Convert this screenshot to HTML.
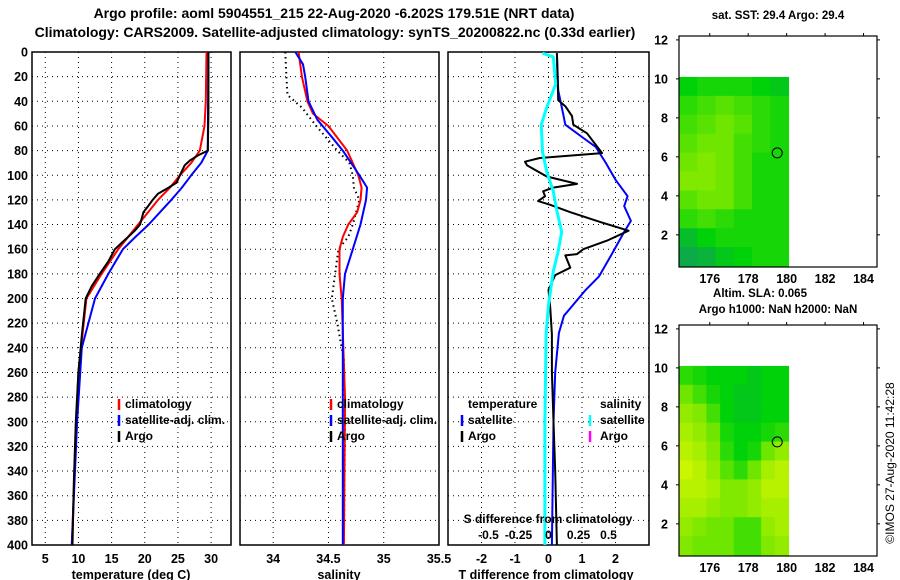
<!DOCTYPE html>
<html><head><meta charset="utf-8">
<style>
html,body{margin:0;padding:0;background:#fff;}
svg{display:block;font-family:"Liberation Sans",sans-serif;font-weight:bold;}
</style></head>
<body>
<svg id="fig" width="900" height="580" viewBox="0 0 900 580" xmlns="http://www.w3.org/2000/svg">
<text x="334" y="18" font-size="14" text-anchor="middle">Argo profile: aoml 5904551_215 22-Aug-2020 -6.202S 179.51E (NRT data)</text>
<text x="335" y="37" font-size="14" text-anchor="middle">Climatology: CARS2009. Satellite-adjusted climatology: synTS_20200822.nc (0.33d earlier)</text>
<g id="g"></g>
</svg>
<script>
// ---- data ----
const depthTicks = [0,20,40,60,80,100,120,140,160,180,200,220,240,260,280,300,320,340,360,380,400];
const tempTicks = [5,10,15,20,25,30];
const salTicks = [34,34.5,35,35.5];
const tdiffTicks = [-2,-1,0,1,2];
const sdiffTicks = [-0.5,-0.25,0,0.25,0.5];
const sdiffTickLabels = ["-0.5","-0.25","0","0.25","0.5"];

const tClimDepth = [0,40,60,80,90,100,110,120,130,140,150,160,180,200,260,300,400];
const tClimVal   = [29.3,29.2,29.0,28.3,27.0,25.3,23.8,22.0,20.5,19.0,17.5,16.0,13.5,11.2,10.0,9.7,9.0];
const tSatDepth  = [0,80,90,100,110,120,130,140,150,160,180,200,240,300,400];
const tSatVal    = [29.6,29.5,28.5,27.0,25.6,24.0,22.3,20.6,18.6,16.7,14.5,12.5,10.5,9.8,9.0];
const tArgoDepth = [0,50,80,84,88,92,100,106,110,115,120,125,130,140,145,150,155,160,170,180,190,200,230,260,300,350,400];
const tArgoVal   = [29.6,29.6,29.5,28.0,26.8,26.0,25.3,24.8,23.6,22.0,21.2,20.5,19.8,19.3,18.5,17.5,16.5,15.5,14.5,13.2,12.0,11.1,10.5,10.0,9.6,9.3,9.1];

const sClimDepth = [0,20,40,50,60,80,100,110,120,130,140,150,160,180,200,280,400];
const sClimVal   = [34.23,34.26,34.31,34.36,34.5,34.67,34.77,34.8,34.79,34.76,34.68,34.63,34.6,34.6,34.62,34.65,34.64];
const sSatDepth  = [0,10,20,40,55,70,80,100,110,120,140,160,180,200,400];
const sSatVal    = [34.2,34.27,34.29,34.32,34.4,34.54,34.63,34.78,34.85,34.84,34.79,34.72,34.65,34.63,34.63];
const sArgoDepth = [0,20,35,45,60,80,90,100,110,120,140,150,160,180,200,220,250,300,400];
const sArgoVal   = [34.11,34.12,34.13,34.26,34.39,34.58,34.69,34.72,34.73,34.78,34.72,34.68,34.59,34.56,34.53,34.58,34.64,34.65,34.64];

const dArgoDepth = [1,39,44,52,59,66,82,86,89,92,97,101,107,110,113,117,121,124,130,138,145,153,160,164,165,175,181,193,207,229,260,300,340,400];
const dArgoVal   = [0.25,0.29,0.5,0.7,0.74,1.15,1.6,-0.26,-0.7,-0.64,-0.31,-0.05,0.85,0.14,-0.16,-0.1,-0.31,0.05,0.65,1.55,2.39,1.75,1.04,0.85,0.5,0.65,0.2,0.0,0.05,0.1,0.1,0.15,0.2,0.25];
const dSatDepth  = [1,31,52,59,69,77,90,104,117,125,137,146,163,182,193,206,214,228,260,300,400];
const dSatVal    = [0.25,0.29,0.45,0.5,1.0,1.41,1.71,2.01,2.36,2.26,2.46,2.26,1.91,1.51,1.11,0.71,0.46,0.31,0.2,0.15,0.1];
const dSalDepth  = [1,4,26,45,59,81,97,113,129,146,162,178,205,229,300,400];
const dSalVal    = [-0.05,0.04,0.06,-0.015,-0.06,-0.05,-0.015,0.04,0.07,0.11,0.08,0.04,0,-0.02,-0.03,-0.03];

const lonTicks = [176,178,180,182,184];
const latTicks = [2,4,6,8,10,12];
const sstGrid = [
 [.45,.5,.5,.5,.45,.4],
 [.55,.6,.65,.6,.55,.5],
 [.6,.65,.7,.65,.55,.5],
 [.65,.7,.7,.6,.55,.5],
 [.7,.75,.7,.6,.5,.5],
 [.75,.75,.7,.6,.5,.5],
 [.65,.7,.7,.6,.5,.5],
 [.55,.6,.55,.5,.5,.5],
 [.35,.45,.5,.5,.5,.5],
 [.25,.3,.4,.45,.5,.5]];
const slaGrid = [
 [.55,.5,.45,.45,.45,.4,.45,.45],
 [.7,.6,.5,.45,.4,.4,.45,.45],
 [.8,.75,.6,.45,.4,.4,.45,.45],
 [.85,.8,.7,.5,.45,.45,.5,.55],
 [.9,.85,.75,.55,.45,.5,.7,.8],
 [.95,.9,.8,.65,.55,.7,.85,.9],
 [.9,.9,.85,.75,.75,.8,.9,.9],
 [.85,.85,.8,.75,.75,.8,.85,.85],
 [.8,.75,.7,.7,.6,.6,.8,.85],
 [.75,.7,.7,.7,.6,.6,.75,.8]];
const argoLon = 179.51, argoLat = 6.202;

// ---- drawing ----
const NS="http://www.w3.org/2000/svg";
const G=document.getElementById('g');
function mk(tag,attrs,parent){const e=document.createElementNS(NS,tag);for(const k in attrs)e.setAttribute(k,attrs[k]);(parent||G).appendChild(e);return e;}
const Y0=52,Y1=545;
const yD=d=>Y0+(d/400)*(Y1-Y0);
function panel(x0,x1,xmin,xmax,name){
  const sx=v=>x0+(v-xmin)/(xmax-xmin)*(x1-x0);
  const r=mk('rect',{x:x0,y:Y0,width:x1-x0,height:Y1-Y0,fill:'none',stroke:'#000','stroke-width':1.5});
  
  
  depthTicks.forEach(d=>{
    if(d>0&&d<400){const l=mk('line',{x1:x0,x2:x1,y1:yD(d),y2:yD(d),stroke:'#000','stroke-dasharray':'1,4'});
    
    }
  });
  return sx;
}
function xgrid(sx,ticks,labels,x0,x1,name){
  ticks.forEach((t,i)=>{
    const x=sx(t);
    if(x>x0+1&&x<x1-1){const l=mk('line',{x1:x,x2:x,y1:Y0,y2:Y1,stroke:'#000','stroke-dasharray':'1,4'});
    
    }
    const tx=mk('text',{x:x,y:563,'font-size':12.5,'text-anchor':'middle'});
    tx.textContent=labels?labels[i]:String(t);
    
    
  });
}
function line(sx,dep,val,color,w,dash,name){
  const pts=dep.map((d,i)=>sx(val[i]).toFixed(1)+','+yD(d).toFixed(1)).join(' ');
  const a={points:pts,fill:'none',stroke:color,'stroke-width':w,'stroke-linejoin':'round'};
  if(dash)a['stroke-dasharray']=dash;
  const p=mk('polyline',a);
  
  
}
function txt(x,y,s,size,name,anchor){
  const t=mk('text',{x:x,y:y,'font-size':size,'text-anchor':anchor||'start'});
  t.textContent=s;
  
  
  return t;
}
function mark(x,y,color){
  const m=mk('line',{x1:x,x2:x,y1:y-10,y2:y+1,stroke:color,'stroke-width':2.5});
  
  
}
depthTicks.forEach(d=>{txt(28,yD(d)+4.5,String(d),12.5,'depth-tick-label','end');});

const sxT=panel(32,231,3,33,'temperature-panel');
xgrid(sxT,tempTicks,null,32,231,'temperature');
line(sxT,tClimDepth,tClimVal,'#f00',2,null,'temperature-climatology-line');
line(sxT,tSatDepth,tSatVal,'#00f',2,null,'temperature-satellite-line');
line(sxT,tArgoDepth,tArgoVal,'#000',2,null,'temperature-argo-line');
txt(131,579,'temperature (deg C)',12.5,'temperature-axis-title','middle');
mark(119,409,'#f00');txt(125,408,'climatology',12,'legend-climatology');
mark(119,425,'#00f');txt(125,424,'satellite-adj. clim.',12,'legend-satellite-adj');
mark(119,441,'#000');txt(125,440,'Argo',12,'legend-argo');

const sxS=panel(240,439,33.7,35.5,'salinity-panel');
xgrid(sxS,salTicks,null,240,439,'salinity');
line(sxS,sArgoDepth,sArgoVal,'#000',2,'1.5,3.5','salinity-argo-line');
line(sxS,sClimDepth,sClimVal,'#f00',2,null,'salinity-climatology-line');
line(sxS,sSatDepth,sSatVal,'#00f',2,null,'salinity-satellite-line');
txt(339,579,'salinity',12.5,'salinity-axis-title','middle');
mark(331,409,'#f00');txt(337,408,'climatology',12,'legend-climatology');
mark(331,425,'#00f');txt(337,424,'satellite-adj. clim.',12,'legend-satellite-adj');
mark(331,441,'#000');txt(337,440,'Argo',12,'legend-argo');

const sxD=panel(448,649,-3,3,'difference-panel');
const sxSD=v=>548.5+v*120;
xgrid(sxD,tdiffTicks,null,448,649,'tdiff');
line(sxD,dSatDepth,dSatVal,'#00f',2,null,'tdiff-satellite-line');
line(sxD,dArgoDepth,dArgoVal,'#000',2,null,'tdiff-argo-line');
line(sxSD,dSalDepth,dSalVal,'#0ff',3,null,'sdiff-satellite-line');
txt(546,579,'T difference from climatology',12.5,'tdiff-axis-title','middle');
txt(548,523,'S difference from climatology',12,'sdiff-axis-title','middle');
sdiffTicks.forEach((v,i)=>txt(sxSD(v),539,sdiffTickLabels[i],12,'sdiff-tick-label','middle'));
txt(468,408,'temperature',12,'legend-temperature-heading');
txt(600,408,'salinity',12,'legend-salinity-heading');
mark(462,425,'#00f');txt(468,424,'satellite',12,'legend-t-satellite');
mark(462,441,'#000');txt(468,440,'Argo',12,'legend-t-argo');
mark(590,425,'#0ff');txt(600,424,'satellite',12,'legend-s-satellite');
mark(590,441,'#f0f');txt(600,440,'Argo',12,'legend-s-argo');

const cstops=[[0.2,[16,160,90]],[0.45,[0,210,10]],[0.7,[110,230,0]],[1.0,[221,248,0]]];
function cmap(v){
  if(v<=cstops[0][0])return 'rgb('+cstops[0][1]+')';
  for(let i=1;i<cstops.length;i++){
    if(v<=cstops[i][0]){const a=cstops[i-1],b=cstops[i],t=(v-a[0])/(b[0]-a[0]);
      return 'rgb('+a[1].map((c,k)=>Math.round(c+(b[1][k]-c)*t)).join(',')+')';}
  }
  return 'rgb('+cstops[3][1]+')';
}
function map(top,bottom,grid,title,name){
  const L=679,R=877,lonMin=174.4,lonMax=184.7,latMin=0.35,latMax=12.2;
  const sx=v=>L+(v-lonMin)/(lonMax-lonMin)*(R-L);
  const sy=v=>bottom-(v-latMin)/(latMax-latMin)*(bottom-top);
  const rows=grid.length,cols=grid[0].length;
  const gx0=sx(lonMin),gx1=sx(180.1),gy0=sy(10.1),gy1=sy(0.4);
  const cw=(gx1-gx0)/cols,ch=(gy1-gy0)/rows;
  grid.forEach((row,r)=>row.forEach((v,c)=>{
    const cell=mk('rect',{x:gx0+c*cw,y:gy0+r*ch,width:cw+0.5,height:ch+0.5,fill:cmap(v)});
    
    
  }));
  const f=mk('rect',{x:L,y:top,width:R-L,height:bottom-top,fill:'none',stroke:'#000','stroke-width':1.2});
  
  
  lonTicks.forEach(v=>{
    mk('line',{x1:sx(v),x2:sx(v),y1:top-3,y2:top,stroke:'#000'});
    txt(sx(v),bottom+16,String(v),12.5,name+'-lon-label','middle');
  });
  latTicks.forEach(v=>{
    mk('line',{x1:R,x2:R+3,y1:sy(v),y2:sy(v),stroke:'#000'});
    mk('line',{x1:L-3,x2:L,y1:sy(v),y2:sy(v),stroke:'#000'});
    txt(668,sy(v)+4.5,String(v),12.5,name+'-lat-label','end');
  });
  const c=mk('circle',{cx:sx(argoLon),cy:sy(argoLat),r:5,fill:'none',stroke:'#000','stroke-width':1});
  
  
  txt(778,top-(name==='sst-map'?17:12),title,11.5,name+'-title','middle');
}
map(36,267,sstGrid,'sat. SST: 29.4 Argo: 29.4','sst-map');
txt(760,297,'Altim. SLA: 0.065',11.5,'sla-label','middle');
map(325,556,slaGrid,'Argo h1000: NaN h2000: NaN','sla-map');
const cr=txt(0,0,'©IMOS 27-Aug-2020 11:42:28',12,'imos-credit','middle');
cr.setAttribute('font-weight','normal');
cr.setAttribute('transform','translate(894,463) rotate(-90)');
</script>
</body></html>
